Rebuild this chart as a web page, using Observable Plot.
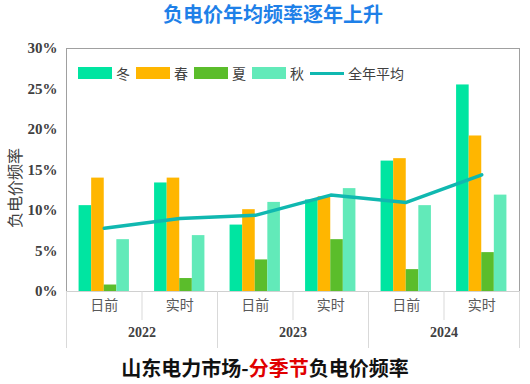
<!DOCTYPE html>
<html>
<head>
<meta charset="utf-8">
<script src="https://cdn.jsdelivr.net/npm/d3@7"></script>
<script src="https://cdn.jsdelivr.net/npm/@observablehq/plot@0.6"></script>
<style>
  body { margin: 0; width: 530px; height: 384px; background: #fff; font-family: "Noto Sans CJK SC", sans-serif; overflow: hidden; }
  #wrap { position: relative; width: 530px; height: 384px; }
  #title { height: 28px; line-height: 28px; text-align: center; padding-left: 16px; font-size: 20px; font-weight: bold; color: #1E80E8; }
  #caption { height: 26px; line-height: 24px; text-align: center; font-size: 20px; font-weight: bold; color: #111; padding-left: 0px; }
  #caption .red { color: #E00000; }
  #legend { position: absolute; left: 78px; top: 63px; display: flex; align-items: center; font-size: 14px; color: #404040; }
  #legend .sw { width: 34px; height: 12px; margin-right: 4px; }
  #legend .ln { width: 34px; height: 3px; margin-right: 4px; }
  #legend .tx { margin-right: 6px; }
  svg { display: block; }
</style>
</head>
<body>
<div id="wrap">
  <div id="title">负电价年均频率逐年上升</div>
  <div id="chart"></div>
  <div id="caption">山东电力市场-<span class="red">分季节</span>负电价频率</div>
  <div id="legend"></div>
</div>
<script>
const years = ["2022", "2023", "2024"];
const types = ["日前", "实时"];
const seasons = ["冬", "春", "夏", "秋"];
const seasonColors = ["#00E5A1", "#FFB600", "#5BBD2B", "#62EAB9"];
const winter = [10.6, 13.4, 8.2, 11.3, 16.1, 25.5];
const spring = [14.0, 14.0, 10.1, 11.7, 16.4, 19.2];
const summer = [0.8, 1.6, 3.9, 6.4, 2.7, 4.8];
const autumn = [6.4, 6.9, 11.0, 12.7, 10.6, 11.9];
const annualAvg = [7.8, 9.0, 9.4, 11.9, 11.0, 14.4];
const avgLabel = "全年平均";
const lineColor = "#10B8B0";
const yTicks = [0, 5, 10, 15, 20, 25, 30];

const seriesValues = [winter, spring, summer, autumn];
const groups = [];
years.forEach((yr, yi) => types.forEach((t, ti) => groups.push({year: yr, type: t, g: yi * types.length + ti})));

const bars = [];
groups.forEach(gr => seasons.forEach((s, si) => bars.push({
  g: gr.g, season: s, si, value: seriesValues[si][gr.g],
  x1: gr.g + (si + 1) / 6, x2: gr.g + (si + 2) / 6
})));
const avgData = groups.map(gr => ({x: gr.g + 0.5, value: annualAvg[gr.g]}));
const typeLabels = groups.map(gr => ({x: gr.g + 0.5, label: gr.type}));
const yearLabels = years.map((yr, yi) => ({x: yi * types.length + types.length / 2, label: yr}));
const majorSeps = d3.range(0, groups.length + 1, types.length);
const minorSeps = d3.range(1, groups.length, types.length);

const chart = Plot.plot({
  width: 530,
  height: 328,
  marginLeft: 66,
  marginRight: 11,
  marginTop: 20,
  marginBottom: 65,
  x: {type: "linear", domain: [0, groups.length], axis: null},
  y: {domain: [0, 30], ticks: yTicks, tickFormat: d => d + "%", label: null},
  color: {domain: seasons, range: seasonColors},
  marks: [
    Plot.axisY(yTicks, {tickSize: 0, tickPadding: 9, tickFormat: d => d + "%", fontFamily: "Liberation Serif", fontWeight: "bold", fontSize: 15, fill: "#404040"}),
    Plot.rectY(bars, {x1: "x1", x2: "x2", y: "value", fill: "season"}),
    Plot.line(avgData, {x: "x", y: "value", stroke: lineColor, strokeWidth: 3.5}),
    Plot.frame({anchor: "top", stroke: "#A0A0A0"}),
    Plot.frame({anchor: "left", stroke: "#A0A0A0"}),
    Plot.frame({anchor: "right", stroke: "#A0A0A0"}),
    Plot.ruleY([0], {stroke: "#D0D0D0"}),
    Plot.ruleX(majorSeps, {x: d => d, stroke: "#D9D9D9", insetTop: 243, insetBottom: -57}),
    Plot.ruleX(minorSeps, {x: d => d, stroke: "#D9D9D9", insetTop: 243, insetBottom: -29}),
    Plot.text(typeLabels, {x: "x", text: "label", frameAnchor: "bottom", dy: 18, fontSize: 14, fill: "#595959", fontFamily: "Noto Sans CJK SC"}),
    Plot.text(yearLabels, {x: "x", text: "label", frameAnchor: "bottom", dy: 45, fontSize: 14, fontWeight: "bold", fill: "#404040", fontFamily: "Liberation Serif"}),
    Plot.text(["负电价频率"], {text: d => d, frameAnchor: "left", textAnchor: "middle", rotate: -90, dx: -51, dy: 18, fontSize: 16, fill: "#404040", fontFamily: "Noto Sans CJK SC"})
  ]
});
document.getElementById("chart").appendChild(chart);

const legend = document.getElementById("legend");
seasons.forEach((s, i) => {
  legend.insertAdjacentHTML("beforeend", `<div class="sw" style="background:${seasonColors[i]}"></div><div class="tx">${s}</div>`);
});
legend.insertAdjacentHTML("beforeend", `<div class="ln" style="background:${lineColor}"></div><div class="tx">${avgLabel}</div>`);
</script>
</body>
</html>
